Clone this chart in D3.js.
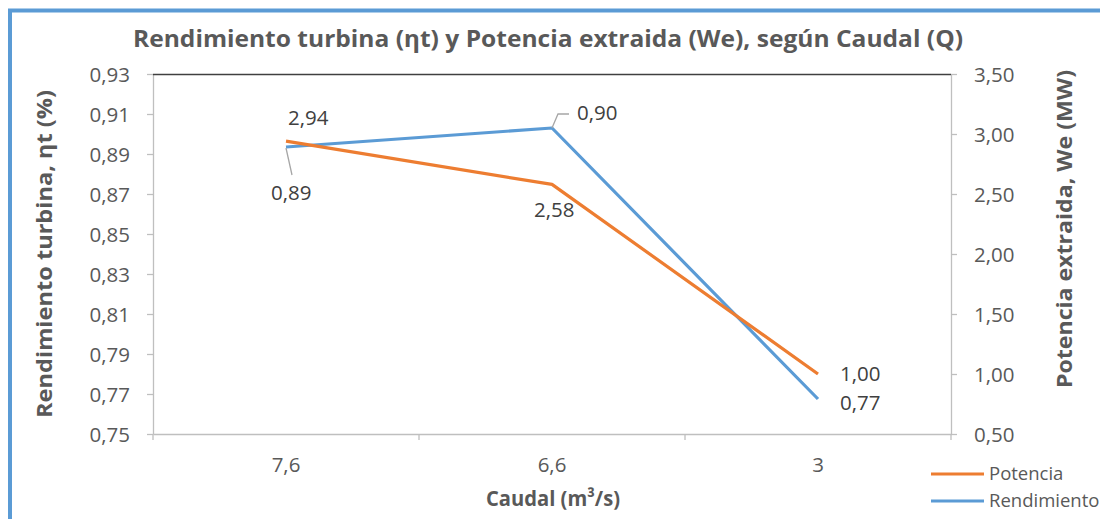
<!DOCTYPE html>
<html>
<head>
<meta charset="utf-8">
<script src="https://cdn.jsdelivr.net/npm/d3@7"></script>
<style>
  html, body { margin: 0; padding: 0; background: #fff; }
  svg { display: block; font-family: "Open Sans", "Noto Sans", sans-serif; }
</style>
</head>
<body>
<svg id="chart" width="1100" height="519"></svg>
<script>
// ---- data ----
const categories = ["7,6", "6,6", "3"];
const potencia = [2.94, 2.58, 1.00];          // MW, right axis
const rendimiento = [0.8935, 0.903, 0.7675];  // left axis
const leftTicks = [0.75, 0.77, 0.79, 0.81, 0.83, 0.85, 0.87, 0.89, 0.91, 0.93];
const rightTicks = [0.5, 1.0, 1.5, 2.0, 2.5, 3.0, 3.5];
const seriesNames = ["Potencia", "Rendimiento"];

// ---- layout / style ----
const plot = { left: 153, right: 951, top: 74, bottom: 434 };
const colors = { Potencia: "#ed7d31", Rendimiento: "#5b9bd5" };
const textColor = "#595959";
const labelColor = "#404040";
const fmt = (d, n) => d.toFixed(n).replace(".", ",");

const svg = d3.select("#chart");

// outer border (left & top visible)
svg.append("path")
  .attr("d", `M10,519 L10,10.5 L1100,10.5`)
  .attr("fill", "none").attr("stroke", "#5b9bd5").attr("stroke-width", 4);

const x = d3.scaleBand().domain(categories).range([plot.left, plot.right]).padding(0);
const cx = c => x(c) + x.bandwidth() / 2;
const yL = d3.scaleLinear().domain([0.75, 0.93]).range([plot.bottom, plot.top]);
const yR = d3.scaleLinear().domain([0.5, 3.5]).range([plot.bottom, plot.top]);

// left axis
const gL = svg.append("g").attr("transform", `translate(${plot.left},0)`)
  .call(d3.axisLeft(yL).tickValues(leftTicks).tickFormat(d => fmt(d, 2)).tickSizeOuter(0).tickSizeInner(6).tickPadding(17));
// right axis
const gR = svg.append("g").attr("transform", `translate(${plot.right},0)`)
  .call(d3.axisRight(yR).tickValues(rightTicks).tickFormat(d => fmt(d, 2)).tickSizeOuter(0).tickSizeInner(6).tickPadding(17));
// bottom axis (labels at centers)
const gB = svg.append("g").attr("transform", `translate(0,${plot.bottom})`)
  .call(d3.axisBottom(x).tickSize(0).tickPadding(23));
// bottom boundary ticks
const boundaries = categories.map(c => x(c)).concat([x.range()[1]]);
svg.append("g").selectAll("line").data(boundaries).join("line")
  .attr("x1", d => d).attr("x2", d => d)
  .attr("y1", plot.bottom).attr("y2", plot.bottom + 6)
  .attr("stroke", "#bfbfbf").attr("stroke-width", 1.3);

[gL, gR, gB].forEach(g => {
  g.select(".domain").attr("stroke", "#bfbfbf").attr("stroke-width", 1.3);
  g.selectAll(".tick line").attr("stroke", "#bfbfbf").attr("stroke-width", 1.3);
  g.selectAll(".tick text").attr("fill", textColor).attr("font-size", 20.5).attr("font-family", "Open Sans");
});
gL.selectAll(".tick text").attr("dy", "0.36em");
gR.selectAll(".tick text").attr("dy", "0.36em");

// top plot border line (dark)
svg.append("line")
  .attr("x1", plot.left).attr("x2", plot.right)
  .attr("y1", plot.top + 0.5).attr("y2", plot.top + 0.5)
  .attr("stroke", "#404040").attr("stroke-width", 1.3);

// lines
const lineL = d3.line().x((d, i) => cx(categories[i])).y(d => yL(d));
const lineR = d3.line().x((d, i) => cx(categories[i])).y(d => yR(d));
svg.append("path").datum(rendimiento).attr("d", lineL)
  .attr("fill", "none").attr("stroke", colors.Rendimiento).attr("stroke-width", 3.2).attr("stroke-linejoin", "round");
svg.append("path").datum(potencia).attr("d", lineR)
  .attr("fill", "none").attr("stroke", colors.Potencia).attr("stroke-width", 3.2).attr("stroke-linejoin", "round");

// data labels (offsets are placement styling)
const potOffsets = [[2, -16], [-18, 33], [22, 7]];
const renOffsets = [[-15, 53], [25, -8], [22, 11]];
const lab = svg.append("g").attr("font-size", 20.5).attr("fill", labelColor);
potencia.forEach((v, i) => {
  lab.append("text")
    .attr("x", cx(categories[i]) + potOffsets[i][0])
    .attr("y", yR(v) + potOffsets[i][1])
    .text(fmt(v, 2));
});
rendimiento.forEach((v, i) => {
  lab.append("text")
    .attr("x", cx(categories[i]) + renOffsets[i][0])
    .attr("y", yL(v) + renOffsets[i][1])
    .text(fmt(v, 2));
});
// leader lines
const lead = svg.append("g").attr("fill", "none").attr("stroke", "#a6a6a6").attr("stroke-width", 1.3);
{
  const px = cx(categories[0]), py = yL(rendimiento[0]);
  lead.append("path").attr("d", `M${px},${py + 1} L${px + 6},${py + 28}`);
  const qx = cx(categories[1]), qy = yL(rendimiento[1]);
  lead.append("path").attr("d", `M${qx},${qy} L${qx + 6},${qy - 14} L${qx + 17},${qy - 14}`);
}

// title
svg.append("text")
  .attr("x", 548).attr("y", 47).attr("text-anchor", "middle")
  .attr("font-size", 23).attr("font-weight", "bold").attr("fill", textColor)
  .attr("textLength", 830).attr("lengthAdjust", "spacingAndGlyphs")
  .text("Rendimiento turbina (ƞt) y Potencia extraida (We), según Caudal (Q)");

// axis titles
svg.append("text")
  .attr("transform", `translate(52,${254}) rotate(-90)`).attr("text-anchor", "middle")
  .attr("font-size", 22).attr("font-weight", "bold").attr("fill", textColor)
  .attr("textLength", 328).attr("lengthAdjust", "spacingAndGlyphs")
  .text("Rendimiento turbina, ƞt (%)");
svg.append("text")
  .attr("transform", `translate(1072,${229}) rotate(-90)`).attr("text-anchor", "middle")
  .attr("font-size", 22).attr("font-weight", "bold").attr("fill", textColor)
  .attr("textLength", 318).attr("lengthAdjust", "spacingAndGlyphs")
  .text("Potencia extraida, We (MW)");
svg.append("text")
  .attr("x", 553).attr("y", 506).attr("text-anchor", "middle")
  .attr("font-size", 22).attr("font-weight", "bold").attr("fill", textColor)
  .attr("textLength", 134).attr("lengthAdjust", "spacingAndGlyphs")
  .text("Caudal (m³/s)");

// legend
const leg = svg.append("g");
seriesNames.forEach((s, i) => {
  const yy = 474 + i * 27;
  leg.append("line").attr("x1", 931).attr("x2", 984).attr("y1", yy).attr("y2", yy)
    .attr("stroke", colors[s]).attr("stroke-width", 3.2);
  leg.append("text").attr("x", 989).attr("y", yy + 6)
    .attr("font-size", 18.5).attr("fill", textColor).text(s);
});
</script>
</body>
</html>
